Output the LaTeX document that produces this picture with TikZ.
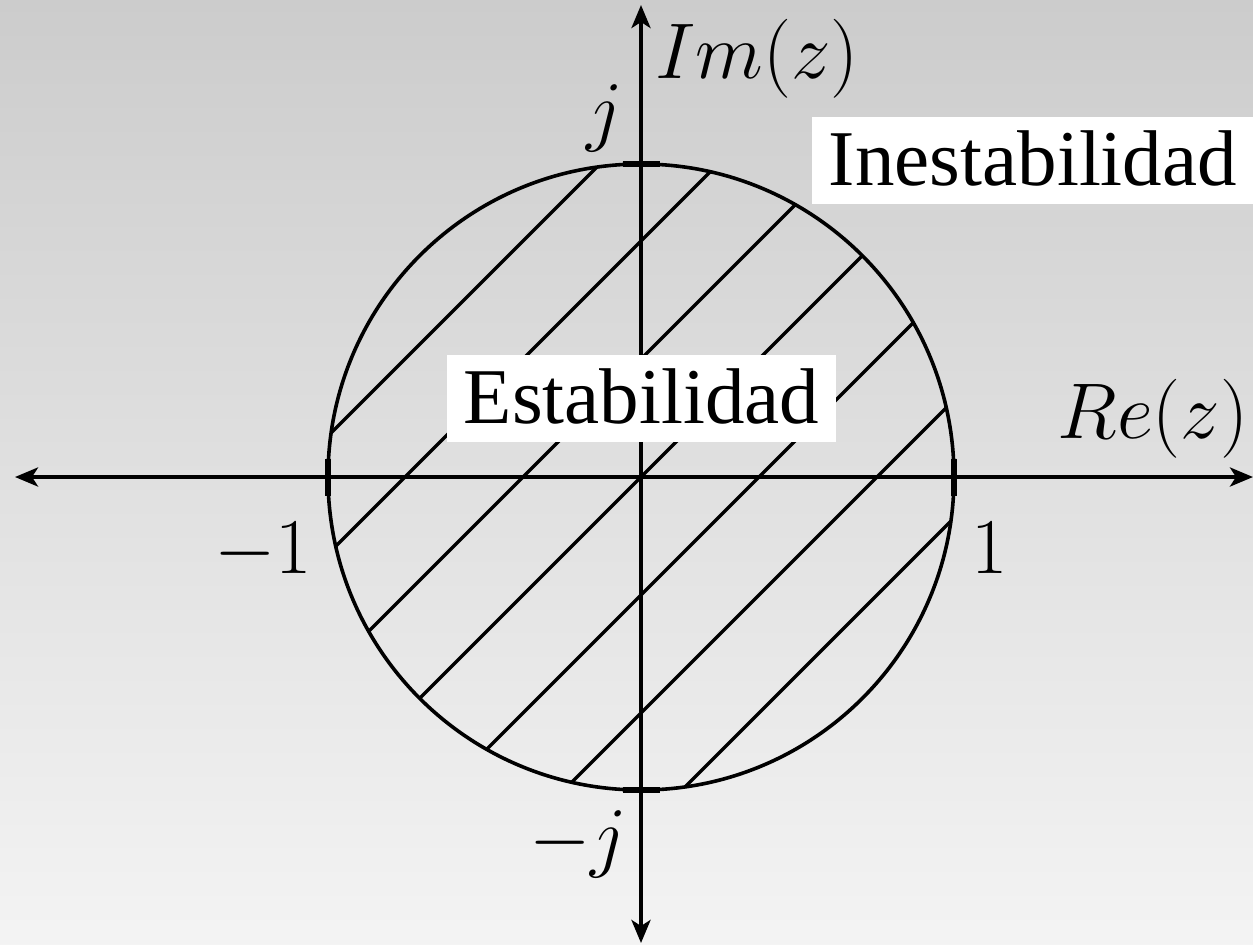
\documentclass[tikz,border=0pt]{standalone}
\usepackage{fontspec}
\setmainfont{Liberation Serif}
\usetikzlibrary{arrows.meta,calc}
\definecolor{bgtop}{gray}{0.80}
\definecolor{bgbot}{gray}{0.955}
\begin{document}
\begin{tikzpicture}[x=0.5pt,y=-0.5pt,
  axis/.style={line width=2pt,{Stealth[length=11.5pt,width=9.5pt,inset=3pt]}-{Stealth[length=11.5pt,width=9.5pt,inset=3pt]}},
  hatch/.style={line width=1.7pt},
  rim/.style={line width=1.8pt},
  tickmark/.style={line width=3pt},
  mathlab/.style={inner sep=0pt,scale=1.5876,font=\fontsize{24.88}{30}\selectfont},
  regionbox/.style={fill=white,inner xsep=8.25pt,inner ysep=0pt,text height=34.25pt,text depth=9.25pt,font=\fontsize{39.5}{47}\selectfont}]
\useasboundingbox (0,0) rectangle (1253,944);
\shade[top color=bgtop,bottom color=bgbot] (0,0) rectangle (1253,944);
\coordinate (O) at (641,477);
\coordinate (E) at (954,477);
\coordinate (W) at (328,477);
\coordinate (N) at (641,164);
\coordinate (S) at (641,790);
\coordinate (xl) at (15,477);
\coordinate (xr) at (1253,477);
\coordinate (yt) at (641,5);
\coordinate (yb) at (641,943);
% hatching
\begin{scope}
  \clip (O) circle[radius=156.5pt];
  \foreach \k in {-3,...,3}{
    \draw[hatch] ($(O)+(\k*59,\k*59)+(-400,400)$) -- ++(800,-800);
  }
\end{scope}
\draw[rim] (O) circle[radius=156.5pt];
% axes
\draw[axis] (xl) -- (xr);
\draw[axis] (yb) -- (yt);
% ticks
\draw[tickmark] ([yshift=9.25pt]E) -- ([yshift=-9.25pt]E);
\draw[tickmark] ([yshift=9.25pt]W) -- ([yshift=-9.25pt]W);
\draw[tickmark] ([xshift=-9.25pt]N) -- ([xshift=9.25pt]N);
\draw[tickmark] ([xshift=-9.25pt]S) -- ([xshift=9.25pt]S);
% labels
\node[mathlab,anchor=base] (one) at (990,573) {$1$};
\node[mathlab,anchor=base] (mone) at (263,573) {$-1$};
\node[mathlab,anchor=base] (jj) at (605,136) {$j$};
\node[mathlab,anchor=base] (mj) at (578,862) {$-j$};
\node[mathlab,anchor=base] (im) at (757,78) {$Im(z)$};
\node[mathlab,anchor=base] (re) at (1153,438) {$Re(z)$};
\node[regionbox,anchor=base west] (ines) at (812,185) {Inestabilidad};
\node[regionbox,anchor=base west] (est) at (447,423) {Estabilidad};
\end{tikzpicture}
\end{document}
